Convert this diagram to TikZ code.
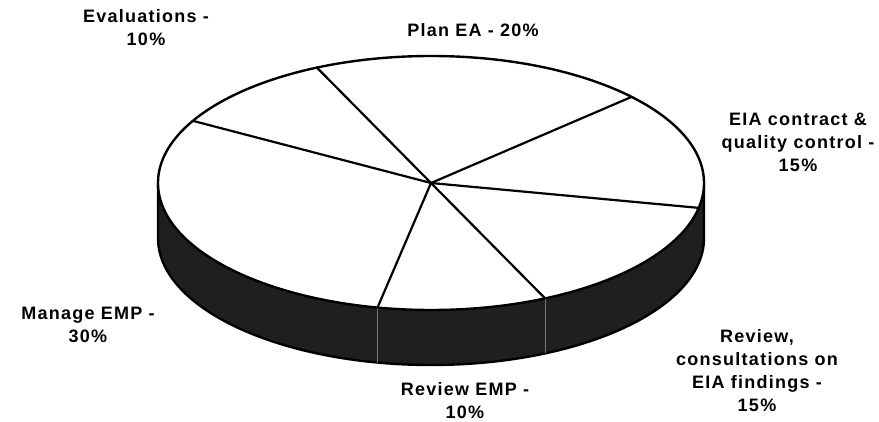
\documentclass[tikz,border=0pt]{standalone}
\usepackage{fontspec}
\setmainfont{Liberation Sans}[LetterSpace=7]
\begin{document}
\begin{tikzpicture}[x=1pt,y=-1pt,
  lbl/.style={font=\bfseries\fontsize{18}{23}\selectfont, align=center, inner sep=0pt},
  rim/.style={line width=2.4pt, line join=round},
  cut/.style={line width=2.2pt, line cap=round},
  sidecut/.style={draw=black!55, line width=0.6pt},
  sidefill/.style={fill=black!88}]
\useasboundingbox (0,0) rectangle (879,422);
\def\pcx{431}\def\pcy{183}\def\prx{273}\def\pry{127}\def\pdep{55}
% side band
\fill[sidefill] (\pcx-\prx,\pcy) arc[start angle=180,end angle=0,x radius=\prx,y radius=\pry]
  -- ++(0,\pdep) arc[start angle=0,end angle=180,x radius=\prx,y radius=\pry] -- cycle;
\draw[rim] (\pcx-\prx,\pcy) -- ++(0,\pdep) arc[start angle=180,end angle=0,x radius=\prx,y radius=\pry] -- ++(0,-\pdep);
% top face
\filldraw[rim, fill=white] (\pcx,\pcy) ellipse[x radius=\prx, y radius=\pry];
% slice boundaries
\coordinate (c) at (\pcx,\pcy);
\coordinate (p1) at ({\pcx+\prx*cos(150.7)},{\pcy-\pry*sin(150.7)});
\coordinate (p2) at ({\pcx+\prx*cos(114.7)},{\pcy-\pry*sin(114.7)});
\coordinate (p3) at ({\pcx+\prx*cos(42.7)},{\pcy-\pry*sin(42.7)});
\coordinate (p4) at ({\pcx+\prx*cos(-11.3)},{\pcy-\pry*sin(-11.3)});
\coordinate (p5) at ({\pcx+\prx*cos(-65.3)},{\pcy-\pry*sin(-65.3)});
\coordinate (p6) at ({\pcx+\prx*cos(-101.3)},{\pcy-\pry*sin(-101.3)});
\coordinate (q5) at ([yshift=-\pdep pt]p5);
\coordinate (q6) at ([yshift=-\pdep pt]p6);
\draw[sidecut] (p5) -- (q5);
\draw[sidecut] (p6) -- (q6);
\foreach \k in {1,...,6} \draw[cut] (c) -- (p\k);
% labels
\node[lbl] (evl) at (146,28) {Evaluations -\\10\%};
\node[lbl] (plan) at (473,30) {Plan EA - 20\%};
\node[lbl] (eia) at (798,142) {EIA contract \&\\quality control -\\15\%};
\node[lbl] (mng) at (88,325) {Manage EMP -\\30\%};
\node[lbl] (remp) at (465,401) {Review EMP -\\10\%};
\node[lbl] (rcon) at (757,371) {Review,\\consultations on\\EIA findings -\\15\%};
\end{tikzpicture}
\end{document}
